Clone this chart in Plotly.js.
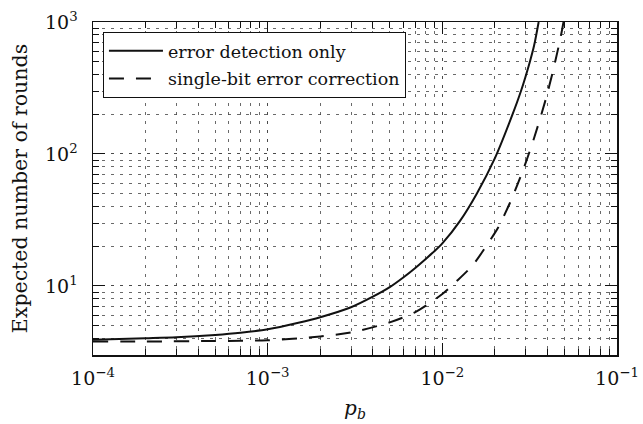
<!DOCTYPE html>
<html>
<head>
<meta charset="utf-8">
<script src="https://cdn.plot.ly/plotly-3.0.1.min.js"></script>
<style>html,body{margin:0;padding:0;background:#fff;}#chart{width:643px;height:424px;}</style>
</head>
<body>
<div id="chart"></div>
<script>
// Error detection only
const pDetect = [1e-4, 2e-4, 3e-4, 5e-4, 7e-4, 1e-3, 1.5e-3, 2e-3, 3e-3, 4e-3, 5e-3, 6e-3, 7e-3, 8e-3, 9e-3, 1e-2, 1.26e-2, 1.58e-2, 2.0e-2, 2.51e-2, 2.82e-2, 3.16e-2, 3.35e-2, 3.56e-2];
const roundsDetect = [3.92, 4.02, 4.09, 4.26, 4.43, 4.70, 5.27, 5.8, 6.9, 8.3, 9.8, 11.65, 13.7, 15.96, 18.3, 21, 31, 50.5, 93, 196, 300, 492, 660, 1000];
// Single-bit error correction
const pCorrect = [1e-4, 2e-4, 5e-4, 1e-3, 2e-3, 3e-3, 5e-3, 7e-3, 1e-2, 1.2e-2, 1.5e-2, 1.97e-2, 2.08e-2, 2.44e-2, 2.92e-2, 3.37e-2, 3.9e-2, 4.34e-2, 4.78e-2, 4.94e-2];
const roundsCorrect = [3.80, 3.80, 3.83, 3.88, 4.15, 4.45, 5.3, 6.35, 8.7, 10.8, 14.5, 24.5, 27.5, 42.7, 77.6, 135, 257, 447, 794, 1000];
const seriesNames = ['error detection only', 'single-bit error correction'];
// Tick labels
const xTickVals = [1e-4, 1e-3, 1e-2, 1e-1];
const xTickText = ['10<sup>−4</sup>', '10<sup>−3</sup>', '10<sup>−2</sup>', '10<sup>−1</sup>'];
const yTickVals = [10, 100, 1000];
const yTickText = ['10<sup>1</sup>', '10<sup>2</sup>', '10<sup>3</sup>'];

const serif = 'DejaVu Serif, serif';
const gridStyle = {gridcolor: '#444', griddash: '3px,6px', gridwidth: 0.8};

const traces = [
  {x: pDetect, y: roundsDetect, name: seriesNames[0], mode: 'lines', legendgroup: 'a',
   line: {color: '#111', width: 2, shape: 'spline', smoothing: 0.8}},
  {x: pCorrect, y: roundsCorrect, name: seriesNames[1], mode: 'lines', legendgroup: 'b',
   line: {color: '#111', width: 2, dash: '15px,12px', shape: 'spline', smoothing: 0.8}}
];

function axisBase() {
  return Object.assign({
    type: 'log', tickmode: 'array',
    ticks: 'inside', ticklen: 12, tickwidth: 1, tickcolor: '#111',
    mirror: 'ticks', showline: true, linecolor: '#111', linewidth: 1.5,
    showgrid: true, zeroline: false, ticklabeloverflow: 'allow',
    tickfont: {family: serif, size: 19, color: '#111'},
    minor: Object.assign({dtick: 'D1', ticks: 'inside', ticklen: 6, tickwidth: 1, tickcolor: '#111', showgrid: true}, gridStyle)
  }, gridStyle);
}

const xaxis = Object.assign(axisBase(), {
  range: [-4, -1],
  tickvals: xTickVals, ticktext: xTickText,
  ticklabelstandoff: 6,
  title: {text: '<i>p<sub>b</sub></i>', font: {family: serif, size: 20, color: '#111'}, standoff: 12}
});
const yaxis = Object.assign(axisBase(), {
  range: [Math.log10(3), 3],
  tickvals: yTickVals, ticktext: yTickText,
  ticklabelstandoff: 10,
  title: {text: 'Expected number of rounds', font: {family: serif, size: 20.5, color: '#111'}, standoff: 12}
});

const layout = {
  width: 643, height: 424,
  margin: {l: 93, r: 26, t: 22, b: 69},
  paper_bgcolor: '#fff', plot_bgcolor: '#fff',
  xaxis: xaxis, yaxis: yaxis,
  showlegend: true,
  legend: {x: 0.019, y: 0.97, xanchor: 'left', yanchor: 'top',
    bgcolor: '#fff', bordercolor: '#111', borderwidth: 1,
    font: {family: serif, size: 17.5, color: '#111'},
    traceorder: 'grouped', tracegroupgap: 2, itemwidth: 54}
};

Plotly.newPlot('chart', traces, layout, {displayModeBar: false, staticPlot: true});
</script>
</body>
</html>
